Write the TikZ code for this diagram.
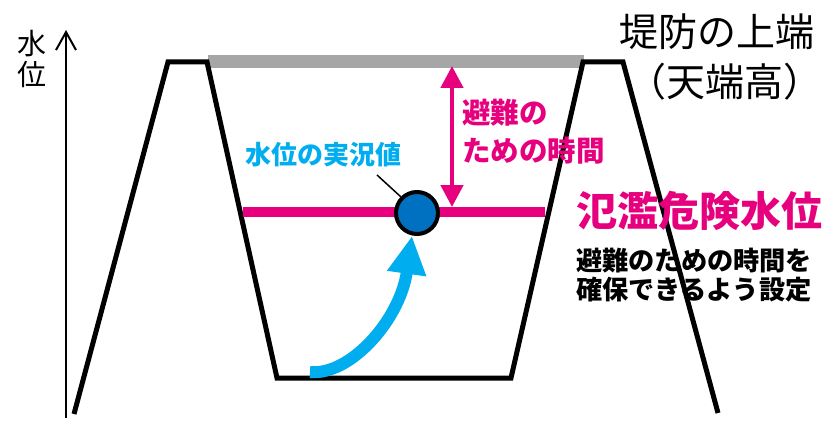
\documentclass[tikz,border=0pt]{standalone}
\usepackage{fontspec}
\newfontfamily\jp{Noto Sans CJK JP}
\usetikzlibrary{arrows.meta}
\definecolor{pinkc}{HTML}{E6007E}
\definecolor{cyanc}{HTML}{00AEEF}
\definecolor{bluec}{HTML}{0070C0}
\definecolor{grayc}{HTML}{A6A6A6}
\tikzset{
  levee/.style={line width=5pt, line join=miter, black},
  lbl/.style={inner sep=0pt, font=\jp},
}
\begin{document}
\begin{tikzpicture}[x=1pt,y=-1pt]
\useasboundingbox (0,0) rectangle (829,425);
% axis
\coordinate (axb) at (66,418);
\coordinate (axt) at (66,30);
\draw[line width=2pt, -{Straight Barb[length=18pt,width=20pt]}] (axb) -- (axt);
\node[lbl, font=\jp\fontsize{29}{31}\selectfont, align=center] (axl) at (32,59) {水\\位};
% crest line
\coordinate (g1) at (208,61.5);
\coordinate (g2) at (584,61.5);
\draw[grayc, line width=13pt] (g1) -- (g2);
% levee
\draw[levee] (74,414) -- (168,62) -- (207,62) -- (277,378) -- (511,378) -- (583,62) -- (623,62) -- (718,413);
% danger level
\coordinate (p1) at (243,212);
\coordinate (p2) at (545,212);
\draw[pinkc, line width=10pt] (p1) -- (p2);
% double arrow
\coordinate (a1) at (452,66);
\coordinate (a2) at (452,207);
\draw[pinkc, line width=4.5pt, {Triangle[length=22pt,width=22pt]}-{Triangle[length=22pt,width=22pt]}] (a1) -- (a2);
% water level marker
\node[circle, draw=black, line width=4pt, fill=bluec, minimum size=42pt, inner sep=0pt] (wl) at (417,213) {};
\coordinate (ld) at (377,175);
\draw[line width=1.5pt] (ld) -- (wl.135);
% cyan rising arrow
\coordinate (cs) at (310,372);
\coordinate (ce) at (412,236);
\draw[cyanc, line width=12pt, -{Triangle[length=38pt,width=37pt]}] (cs) .. controls (350,376) and (400,320) .. (ce);
% texts
\node[lbl, font=\jp\bfseries\fontsize{26}{30}\selectfont, text=cyanc] (t1) at (323,155) {水位の実況値};
\node[lbl, font=\jp\bfseries\fontsize{28.5}{30}\selectfont, text=pinkc, anchor=west] (t2) at (462,113) {避難の};
\node[lbl, font=\jp\bfseries\fontsize{28.5}{30}\selectfont, text=pinkc, anchor=west] (t3) at (462,151) {ための時間};
\node[lbl, font=\jp\bfseries\fontsize{41}{44}\selectfont, text=pinkc] (t4) at (699,211) {氾濫危険水位};
\node[lbl, font=\jp\bfseries\fontsize{26.2}{28}\selectfont, anchor=west] (t5) at (576,261) {避難のための時間を};
\node[lbl, font=\jp\bfseries\fontsize{26.2}{28}\selectfont, anchor=west] (t6) at (576,290) {確保できるよう設定};
\node[lbl, font=\jp\fontsize{39}{42}\selectfont] (t7) at (717,32) {堤防の上端};
\node[lbl, font=\jp\fontsize{39}{42}\selectfont] (t8) at (725,82) {（天端高）};
\end{tikzpicture}
\end{document}
